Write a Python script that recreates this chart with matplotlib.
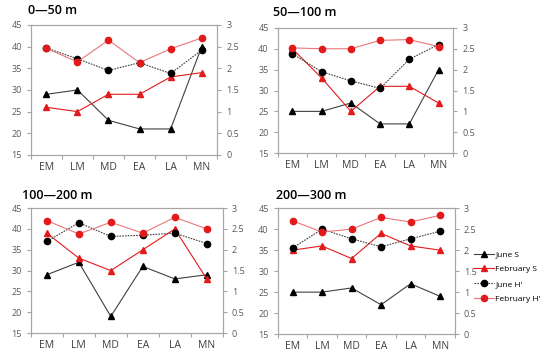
import matplotlib
matplotlib.use("Agg")
import matplotlib.pyplot as plt
import numpy as np

plt.rcParams['font.family'] = ['Open Sans', 'DejaVu Sans']

periods = ['EM', 'LM', 'MD', 'EA', 'LA', 'MN']
depths = ['0\u201450 m', '50\u2014100 m', '100\u2014200 m', '200\u2014300 m']

# species richness S (left axis)
june_s = [
    [29, 30, 23, 21, 21, 40],
    [25, 25, 27, 22, 22, 35],
    [29, 32, 19, 31, 28, 29],
    [25, 25, 26, 22, 27, 24],
]
feb_s = [
    [26, 25, 29, 29, 33, 34],
    [40, 33, 25, 31, 31, 27],
    [39, 33, 30, 35, 40, 28],
    [35, 36, 33, 39, 36, 35],
]
# diversity H' (right axis)
june_h = [
    [2.47, 2.22, 1.95, 2.13, 1.88, 2.42],
    [2.38, 1.95, 1.73, 1.55, 2.25, 2.60],
    [2.20, 2.65, 2.32, 2.35, 2.40, 2.15],
    [2.05, 2.50, 2.27, 2.08, 2.27, 2.45],
]
feb_h = [
    [2.46, 2.15, 2.65, 2.13, 2.45, 2.70],
    [2.52, 2.50, 2.50, 2.70, 2.72, 2.55],
    [2.70, 2.38, 2.66, 2.40, 2.78, 2.50],
    [2.70, 2.43, 2.50, 2.78, 2.67, 2.83],
]

positions = [
    [0.056, 0.572, 0.339, 0.359],
    [0.505, 0.577, 0.319, 0.346],
    [0.056, 0.080, 0.349, 0.345],
    [0.505, 0.077, 0.322, 0.348],
]
title_xy = [(28, 11), (273, 13), (22, 196), (276, 196)]

RED = '#e31a1c'
PINK = '#e8777a'
GRAY = '#a6a6a6'
TXT = '#595959'

fig = plt.figure(figsize=(5.5, 3.62), dpi=100)
x = np.arange(len(periods))

for i in range(4):
    ax = fig.add_axes(positions[i])
    ax2 = ax.twinx()
    l1, = ax.plot(x, june_s[i], color='#404040', lw=0.8, marker='^', ms=4.5,
                  mfc='black', mec='black', label='June S', zorder=3)
    l2, = ax.plot(x, feb_s[i], color=RED, lw=0.8, marker='^', ms=4.5,
                  mfc=RED, mec=RED, label='February S', zorder=3)
    l3, = ax2.plot(x, june_h[i], color='#404040', lw=0.8, ls=(0, (1.5, 1)), marker='o', ms=4.5,
                   mfc='black', mec='black', label="June H'")
    l4, = ax2.plot(x, feb_h[i], color=PINK, lw=0.8, marker='o', ms=4.5,
                   mfc=RED, mec=RED, label="February H'")

    ax.set_xlim(-0.5, 5.5)
    ax.set_ylim(15, 45)
    ax.set_yticks(range(15, 50, 5))
    ax2.set_ylim(0, 3)
    ax2.set_yticks(np.arange(0, 3.01, 0.5))
    ax2.set_yticklabels(['0', '0.5', '1', '1.5', '2', '2.5', '3'])

    ax.set_xticks(x)
    ax.set_xticklabels(periods, fontsize=7.5, color='#404040')
    ax.set_xticks(np.arange(-0.5, 6, 1), minor=True)
    ax.tick_params(axis='x', which='major', length=0, pad=5)
    ax.tick_params(axis='x', which='minor', length=3, color=GRAY, width=0.8)
    ax.tick_params(axis='y', labelsize=6.5, labelcolor=TXT, length=3, color=GRAY, width=0.8)
    ax2.tick_params(axis='y', labelsize=6.5, labelcolor=TXT, length=3, color=GRAY, width=0.8)

    for a in (ax, ax2):
        for s in a.spines.values():
            s.set_color(GRAY)
            s.set_linewidth(0.8)

    fig.text(title_xy[i][0] / 550, 1 - title_xy[i][1] / 362, depths[i],
             fontsize=9, fontweight='semibold', ha='left', va='center', color='black')

fig.legend([l1, l2, l3, l4], ["June S", "February S", "June H'", "February H'"],
           loc='center left', bbox_to_anchor=(0.862, 0.235), frameon=False,
           fontsize=6, handlelength=2.4, handletextpad=0.15, labelspacing=0.85,
           borderaxespad=0, borderpad=0)

fig.savefig('out.png', dpi=100)
